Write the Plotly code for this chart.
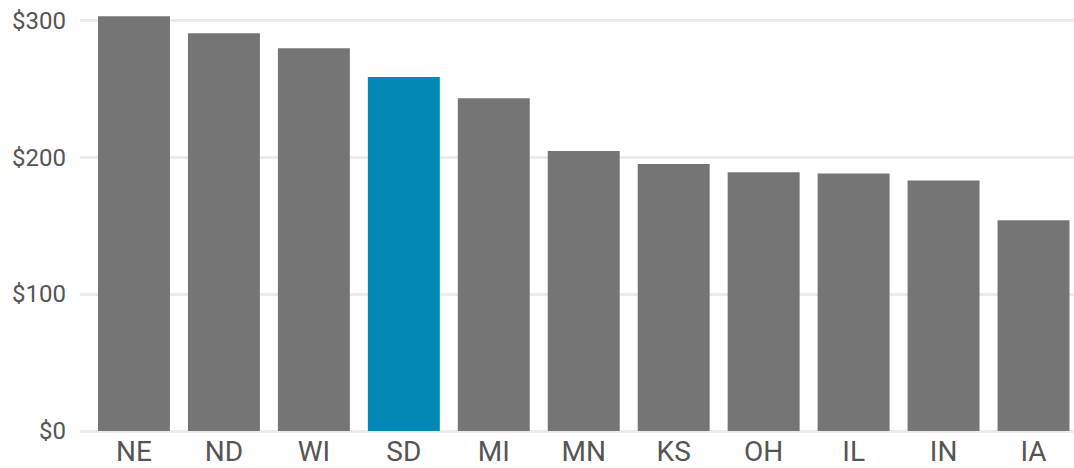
import plotly.graph_objects as go

states = ["NE", "ND", "WI", "SD", "MI", "MN", "KS", "OH", "IL", "IN", "IA"]
values = [303, 290.5, 279.5, 258.5, 243, 204.5, 195, 189, 188, 183, 154]
highlight = "SD"
tick_vals = [0, 100, 200, 300]
tick_text = ["$0", "$100", "$200", "$300"]

colors = ["#0089b5" if s == highlight else "#757575" for s in states]

fig = go.Figure(go.Bar(x=states, y=values, marker=dict(color=colors, line=dict(width=0)),
                       hoverinfo="x+y"))

fig.update_layout(
    width=1074, height=468,
    margin=dict(l=80, r=0, t=6, b=37),
    plot_bgcolor="white", paper_bgcolor="white",
    bargap=0.2,
    showlegend=False,
    font=dict(family="Roboto, sans-serif", color="#555555"),
)
fig.update_xaxes(range=[-0.6, 10.45], showgrid=False, showline=False, ticks="",
                 tickfont=dict(size=28, color="#555555"), ticklabelstandoff=1,
                 automargin=False)
fig.update_yaxes(range=[0, 310.4], tickvals=tick_vals, ticktext=tick_text,
                 showgrid=True, gridcolor="#ebebeb", gridwidth=3,
                 zeroline=True, zerolinecolor="#ebebeb", zerolinewidth=3,
                 showline=False, ticks="", tickfont=dict(size=24, color="#555555"),
                 ticklabelstandoff=13, automargin=False)

fig.write_html("out.html", config={"displayModeBar": False},
               post_script="document.body.style.margin='0';document.body.style.overflow='hidden';")
